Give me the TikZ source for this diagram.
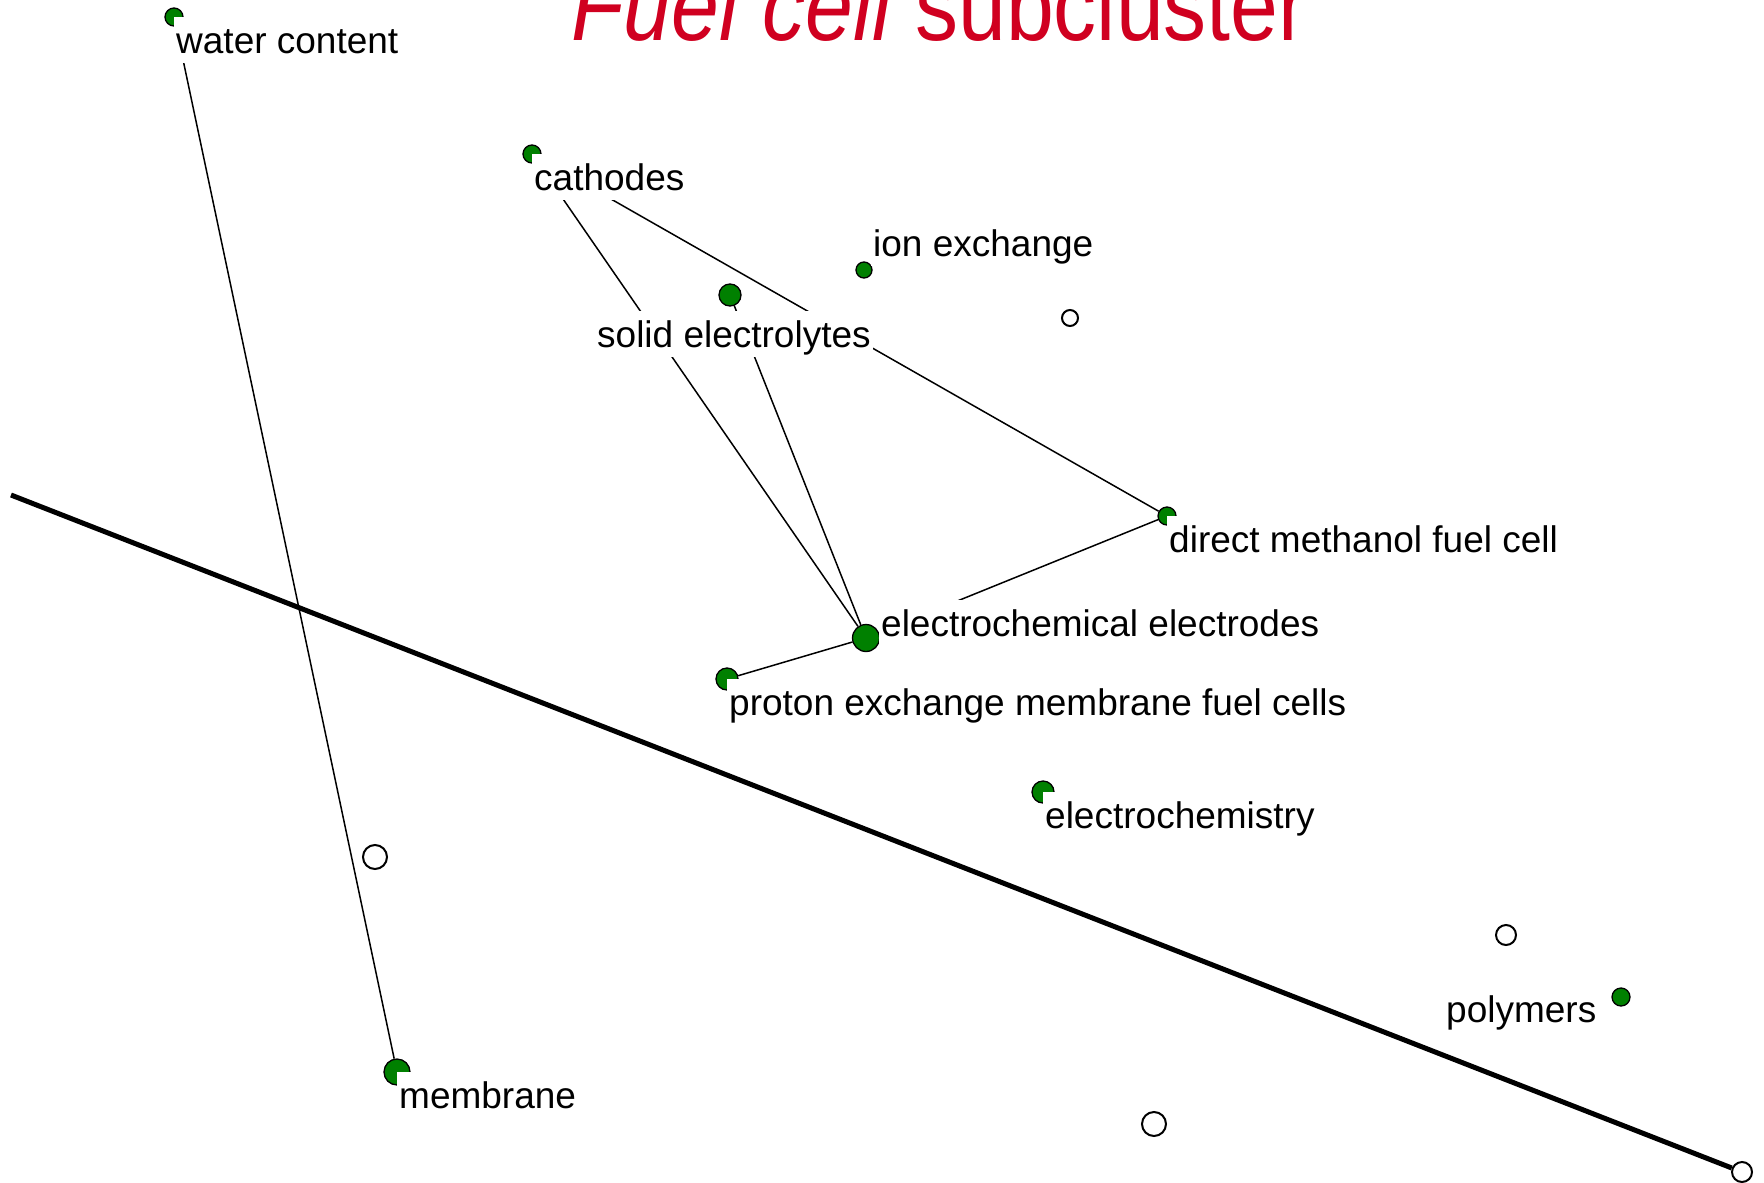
\documentclass[tikz,border=0pt]{standalone}
\usepackage{fontspec}
\setmainfont{Liberation Sans}
\newfontfamily\titlefont[FakeStretch=0.86]{Liberation Sans}
\definecolor{titlered}{RGB}{208,0,32}
\definecolor{nodegreen}{RGB}{0,128,0}
\begin{document}
\begin{tikzpicture}[x=1pt,y=-1pt,
  marker/.style={circle,fill=nodegreen,draw=black,line width=1.3pt,inner sep=0pt,minimum size=#1},
  hole/.style={circle,fill=white,draw=black,line width=2pt,inner sep=0pt,minimum size=#1},
  term/.style={fill=white,inner xsep=2pt,inner ysep=0pt,text height=36pt,text depth=10pt,
               font=\fontsize{37}{40}\selectfont},
  link/.style={line width=1.5pt,black},
  divider/.style={line width=5pt,black}]
\useasboundingbox (0,0) rectangle (1764,1183);
\clip (0,0) rectangle (1764,1183);
\fill[white] (0,0) rectangle (1764,1183);

% heading
\node[anchor=base west,inner sep=0pt,text=titlered,font=\titlefont\fontsize{100}{104}\selectfont]
  (title) at (571,40) {\itshape Fuel cell\upshape{} subcluster};

% concept markers
\node[marker=18pt] (wc) at (174,17) {};
\node[marker=18pt] (cath) at (532,154) {};
\node[marker=16pt] (ion) at (864,270) {};
\node[marker=22pt] (solid) at (730,295) {};
\node[marker=18pt] (dmfc) at (1167,516) {};
\node[marker=27pt] (ece) at (866,638) {};
\node[marker=22pt] (pem) at (727,679) {};
\node[marker=22pt] (echem) at (1043,792) {};
\node[marker=18pt] (poly) at (1621,997) {};
\node[marker=26pt] (mem) at (397,1072) {};

% empty positions
\node[hole=16pt] (h1) at (1070,318) {};
\node[hole=24pt] (h2) at (375,857) {};
\node[hole=20pt] (h3) at (1506,935) {};
\node[hole=24pt] (h4) at (1154,1124) {};
\node[hole=20pt] (h5) at (1742,1172) {};
\coordinate (d0) at (11,495);

% links between concepts
\draw[link] (wc) -- (mem);
\draw[link] (cath) -- (ece);
\draw[link] (cath) -- (dmfc);
\draw[link] (solid) -- (ece);
\draw[link] (ece) -- (dmfc);
\draw[link] (pem) -- (ece);

% separating line
\draw[divider] (d0) -- (h5);

% labels
\node[term,anchor=north west] (wcL) at (wc.center) {water content};
\node[term,anchor=north west] (cathL) at (cath.center) {cathodes};
\node[term,anchor=north west] (dmfcL) at (dmfc.center) {direct methanol fuel cell};
\node[term,anchor=north west] (pemL) at (pem.center) {proton exchange membrane fuel cells};
\node[term,anchor=north west] (echemL) at (echem.center) {electrochemistry};
\node[term,anchor=north west] (memL) at (mem.center) {membrane};
\node[term,anchor=base west] (ionL) at (871,256) {ion exchange};
\node[term,anchor=base west] (solidL) at (595,347) {solid electrolytes};
\node[term,anchor=base west] (eceL) at (879,636) {electrochemical electrodes};
\node[term,anchor=base west] (polyL) at (1444,1022) {polymers};
\end{tikzpicture}
\end{document}
